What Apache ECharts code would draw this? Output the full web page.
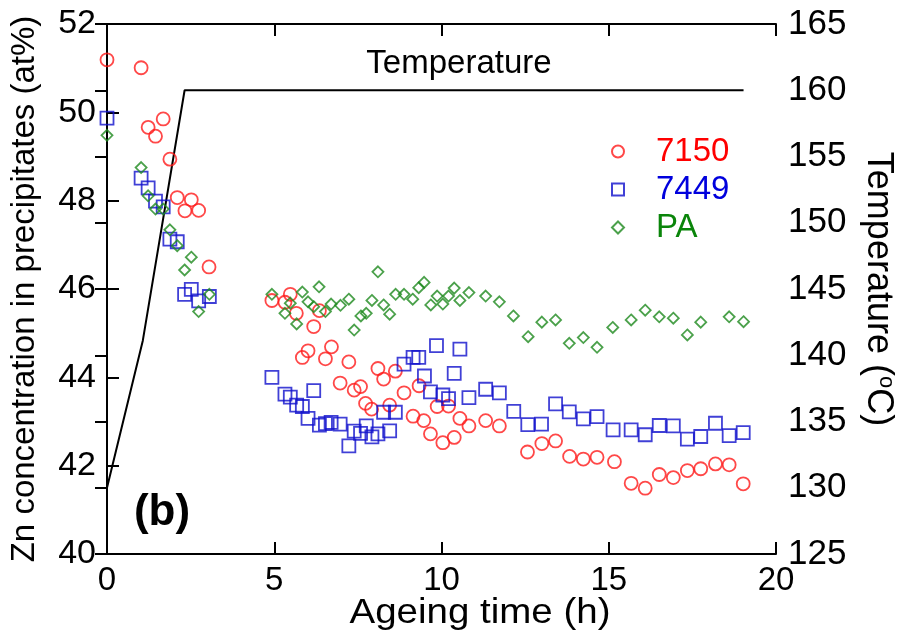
<!DOCTYPE html>
<html>
<head>
<meta charset="utf-8">
<script src="https://cdn.jsdelivr.net/npm/echarts@6/dist/echarts.min.js"></script>
<style>html,body{margin:0;padding:0;background:#fff}#c{width:905px;height:642px}</style>
</head>
<body>
<div id="c"></div>
<script>
// ---- data ----
var xTicks = [0, 5, 10, 15, 20];
var leftTicks = [40, 42, 44, 46, 48, 50, 52];
var rightTicks = [125, 130, 135, 140, 145, 150, 155, 160, 165];

var s7150 = [[0,51.19],[1.02,51.01],[1.23,49.66],[1.45,49.46],[1.68,49.85],[1.88,48.94],[2.10,48.07],[2.33,47.77],[2.52,48.02],[2.74,47.78],[3.05,46.5],
[4.93,45.74],[5.32,45.70],[5.48,45.88],[5.66,45.45],[5.84,44.45],[6.01,44.60],[6.18,45.15],[6.35,45.51],[6.53,44.42],[6.71,44.69],[6.97,43.87],[7.23,44.35],[7.39,43.71],[7.58,43.79],[7.73,43.41],[7.91,43.28],[8.10,44.2],[8.27,43.96],[8.45,43.37],[8.62,44.14],[8.88,43.65],[9.15,43.12],[9.33,43.81],[9.47,43.02],[9.67,42.72],[9.87,43.34],[10.04,42.52],[10.21,43.35],[10.38,42.64],[10.55,43.07],[10.82,42.9],[11.32,43.02],[11.73,42.9],[12.57,42.31],[13.0,42.5],[13.41,42.56],[13.83,42.21],[14.24,42.15],[14.65,42.19],[15.17,42.09],[15.67,41.6],[16.09,41.49],[16.51,41.8],[16.93,41.73],[17.35,41.89],[17.75,41.93],[18.19,42.04],[18.6,42.02],[19.02,41.59]];

var s7449 = [[0,49.87],[1.02,48.51],[1.23,48.29],[1.45,47.99],[1.68,47.86],[1.88,47.13],[2.10,47.07],[2.32,45.88],[2.52,45.99],[2.74,45.73],[3.06,45.83],
[4.93,44.0],[5.32,43.62],[5.48,43.55],[5.67,43.37],[5.84,43.34],[6.01,43.07],[6.18,43.70],[6.35,42.92],[6.53,42.95],[6.70,42.98],[6.97,42.94],[7.23,42.45],[7.39,42.78],[7.58,42.73],[7.75,42.9],[7.92,42.65],[8.10,42.72],[8.27,43.21],[8.45,42.79],[8.62,43.21],[8.88,44.30],[9.15,44.45],[9.32,44.45],[9.49,44.03],[9.67,43.67],[9.85,44.72],[10.04,43.60],[10.21,43.52],[10.38,44.09],[10.55,44.64],[10.82,43.54],[11.32,43.73],[11.73,43.65],[12.16,43.23],[12.58,42.93],[12.99,42.94],[13.41,43.4],[13.82,43.22],[14.24,43.06],[14.65,43.11],[15.13,42.81],[15.67,42.81],[16.09,42.7],[16.51,42.91],[16.93,42.9],[17.35,42.6],[17.75,42.66],[18.19,42.96],[18.6,42.68],[19.02,42.75]];

var sPA = [[0,49.48],[1.02,48.75],[1.23,48.11],[1.45,47.81],[1.68,47.81],[1.88,47.34],[2.10,46.98],[2.32,46.43],[2.52,46.72],[2.74,45.49],[3.06,45.88],
[4.93,45.88],[5.32,45.45],[5.48,45.68],[5.67,45.21],[5.84,45.93],[6.01,45.71],[6.18,45.6],[6.34,46.05],[6.53,45.49],[6.70,45.66],[6.98,45.63],[7.23,45.77],[7.39,45.07],[7.59,45.39],[7.75,45.45],[7.92,45.74],[8.10,46.39],[8.27,45.64],[8.45,45.43],[8.63,45.88],[8.88,45.88],[9.14,45.77],[9.32,46.03],[9.48,46.15],[9.68,45.64],[9.87,45.84],[10.04,45.66],[10.21,45.84],[10.38,46.02],[10.55,45.74],[10.82,45.92],[11.32,45.84],[11.73,45.71],[12.15,45.39],[12.59,44.92],[13.0,45.25],[13.41,45.30],[13.82,44.77],[14.24,44.9],[14.65,44.68],[15.12,45.13],[15.67,45.30],[16.09,45.52],[16.51,45.37],[16.93,45.34],[17.35,44.96],[17.75,45.25],[18.6,45.37],[19.03,45.26]];

var temperature = [[0,130],[1.07,141.1],[2.32,160],[19.03,160]];

var seriesNames = ['7150', '7449', 'PA'];
var seriesColors = ['#ff1a1a', '#1010cc', '#1e8a1e'];
var legendTextColors = ['#ff0000', '#0000dd', '#0a850a'];

// ---- chart ----
var FONT = 'Liberation Sans, Arial, sans-serif';
var chart = echarts.init(document.getElementById('c'), null, {renderer: 'canvas'});

function scatter(name, data, symbol, size, color) {
  return {
    name: name, type: 'scatter', data: data, symbol: symbol, symbolSize: size,
    xAxisIndex: 0, yAxisIndex: 0,
    itemStyle: {color: 'rgba(255,255,255,0)', borderColor: color, borderWidth: 1.8},
    emphasis: {disabled: true}, z: 5
  };
}

var axisLineStyle = {lineStyle: {color: '#000', width: 2}};
var tickStyle = {show: true, inside: true, length: 12, lineStyle: {color: '#000', width: 2}};

chart.setOption({
  animation: false,
  backgroundColor: '#fff',
  grid: {left: 105, right: 121, top: 24, bottom: 88, containLabel: false},
  xAxis: [{
    type: 'value', position: 'bottom', min: xTicks[0], max: xTicks[xTicks.length - 1], interval: 5,
    axisLine: axisLineStyle, axisTick: tickStyle, splitLine: {show: false},
    axisLabel: {fontSize: 33, color: '#000', fontFamily: FONT, margin: 10}
  }, {
    type: 'value', position: 'top', min: 0, max: 20, interval: 5,
    axisLine: axisLineStyle, axisTick: tickStyle, splitLine: {show: false},
    axisLabel: {show: false}
  }],
  yAxis: [{
    type: 'value', position: 'left', min: leftTicks[0], max: leftTicks[leftTicks.length - 1], interval: 2,
    axisLine: axisLineStyle, axisTick: tickStyle, splitLine: {show: false},
    axisLabel: {fontSize: 34, color: '#000', fontFamily: FONT, margin: 11},
    name: 'Zn concentration in precipitates (at%)', nameLocation: 'middle', nameGap: 66,
    nameTextStyle: {fontSize: 33, color: '#000', fontFamily: FONT}
  }, {
    type: 'value', position: 'right', min: rightTicks[0], max: rightTicks[rightTicks.length - 1], interval: 5,
    axisLine: axisLineStyle, axisTick: tickStyle, splitLine: {show: false},
    axisLabel: {fontSize: 35, color: '#000', fontFamily: FONT, margin: 12},
    name: 'Temperature ({sup|o}C)', nameLocation: 'middle', nameGap: 82, nameRotate: -90,
    nameTextStyle: {fontSize: 36, color: '#000', fontFamily: FONT,
      rich: {sup: {fontSize: 22, color: '#000', fontFamily: FONT, padding: [0, 0, 17, 0]}}}
  }],
  legend: {
    orient: 'vertical', left: 606, top: 130, itemGap: 5, itemWidth: 12, itemHeight: 12,
    textStyle: {fontSize: 33, fontFamily: FONT, padding: [0, 0, 0, 27]},
    data: seriesNames.map(function (n, i) { return {name: n, textStyle: {color: legendTextColors[i]}}; })
  },
  series: [
    scatter(seriesNames[0], s7150, 'circle', 13, seriesColors[0]),
    scatter(seriesNames[1], s7449, 'rect', 13, seriesColors[1]),
    scatter(seriesNames[2], sPA, 'diamond', 11, seriesColors[2]),
    {
      name: 'Temperature', type: 'line', data: temperature, xAxisIndex: 0, yAxisIndex: 1,
      showSymbol: false, symbol: 'none', lineStyle: {color: '#000', width: 2}, z: 3,
      emphasis: {disabled: true}
    }
  ],
  graphic: [
    {type: 'text', style: {text: 'Temperature', font: '33px ' + FONT, fill: '#000', x: 459, y: 64, align: 'center', verticalAlign: 'middle'}},
    {type: 'text', style: {text: '(b)', font: 'bold 44px ' + FONT, fill: '#000', x: 162, y: 513, align: 'center', verticalAlign: 'middle'}},
    {type: 'text', x: 480, y: 613, scaleX: 1.1, scaleY: 1,
     style: {text: 'Ageing time (h)', font: '35px ' + FONT, fill: '#000', x: 0, y: 0, align: 'center', verticalAlign: 'middle'}}
  ]
});
</script>
</body>
</html>
